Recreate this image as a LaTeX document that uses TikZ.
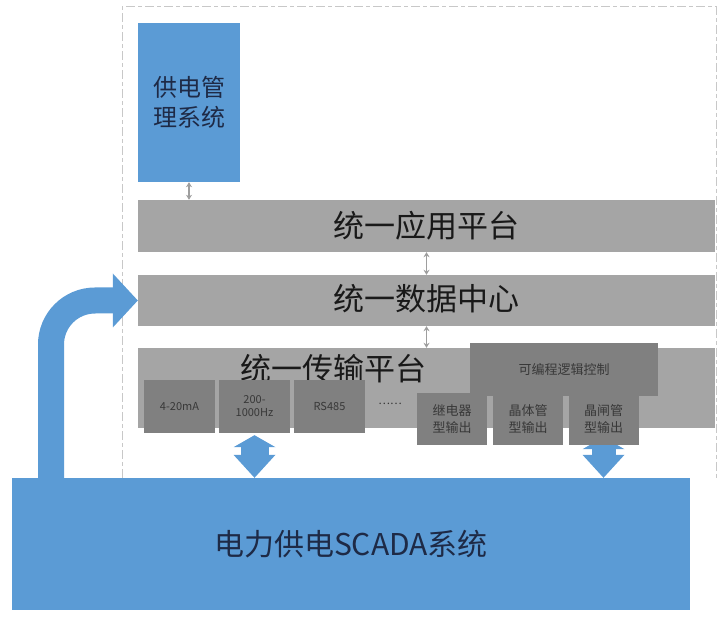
\documentclass[tikz,border=0pt]{standalone}
\usepackage{fontspec}
\setmainfont{Noto Sans CJK SC}
\usetikzlibrary{arrows.meta,backgrounds}

\definecolor{scadablue}{HTML}{5B9BD5}
\definecolor{bargray}{HTML}{A5A5A5}
\definecolor{boxgray}{HTML}{808080}
\definecolor{linkgray}{HTML}{9E9E9E}
\definecolor{framegray}{HTML}{C8C8C8}
\definecolor{navytext}{HTML}{1E2A46}

\tikzset{
  layerbar/.style={rectangle, fill=bargray, inner sep=0pt, minimum width=577pt},
  portbox/.style={rectangle, fill=boxgray, inner sep=0pt, minimum width=71pt, minimum height=53pt,
    align=center, text=black!78, font=\fontsize{11}{13}\selectfont},
  outbox/.style={portbox, minimum width=70pt, minimum height=52pt, font=\fontsize{13}{17}\selectfont},
  bigtext/.style={font=\fontsize{31}{31}\selectfont, text=black!90},
  link/.style={draw=linkgray, line width=1.2pt,
    {Stealth[length=5pt,width=6pt]}-{Stealth[length=5pt,width=6pt]}},
  busarrow/.style={draw=scadablue, line width=28pt,
    {Triangle[width=42pt,length=12pt,line width=0pt]}-{Triangle[width=42pt,length=23pt,line width=0pt]}},
  bendarrow/.style={draw=scadablue, line width=26pt, rounded corners=44pt,
    -{Triangle[width=54pt,length=25pt,line width=0pt]}}
}

\begin{document}
\begin{tikzpicture}[x=1pt,y=-1pt]
	\useasboundingbox (0,0) rectangle (718,617);

	% management block and the three platform layers
	\node (mgmt) [rectangle, fill=scadablue, inner sep=0pt, minimum width=102pt, minimum height=159pt,
		align=center, text=navytext, font=\fontsize{24}{30}\selectfont] at (189,102.5) {供电管\\理系统};
	\node (app) [layerbar, minimum height=52pt] at (426.5,226) {};
	\node (apptext) [bigtext] at (426,226) {统一应用平台};
	\node (data) [layerbar, minimum height=51pt] at (426.5,300.5) {};
	\node (datatext) [bigtext] at (426,299) {统一数据中心};
	\node (trans) [layerbar, minimum height=80pt] at (426.5,388) {};
	\node (transtext) [bigtext] at (333,369) {统一传输平台};

	% PLC and its outputs
	\node (plc) [rectangle, fill=boxgray, inner sep=0pt, minimum width=188pt, minimum height=53pt,
		text=black!78, font=\fontsize{13}{13}\selectfont] at (564,369.5) {可编程逻辑控制};

	% signal interfaces
	\node (ma) [portbox] at (179.5,406.5) {4-20mA};
	\node (hz) [portbox] at (254.5,406.5) {200-\\1000Hz};
	\node (rs) [portbox] at (329.5,406.5) {RS485};
	\node (dots) [text=black!80, font=\fontsize{11}{11}\selectfont] at (390,404) {……};
	\node (relay) [outbox] at (452,419) {继电器\\型输出};
	\node (transistor) [outbox] at (528,419) {晶体管\\型输出};
	\node (thyristor) [outbox] at (603.5,419) {晶闸管\\型输出};

	% SCADA
	\node (scada) [rectangle, fill=scadablue, inner sep=0pt, minimum width=678pt, minimum height=132pt,
		text=navytext, font=\fontsize{30}{30}\selectfont] at (351,544) {电力供电SCADA系统};

	\draw[link] (mgmt.south) -- (mgmt.south |- app.north);
	\draw[link] (app.south) -- (data.north);
	\draw[link] (data.south) -- (trans.north);

	\coordinate (riser) at (51,0);
	\begin{scope}[on background layer]
		\draw[framegray, line width=1pt, dash pattern=on 9pt off 3pt on 4pt off 3pt]
			(122,478) |- (716,7) -- (716,478);
		\draw[bendarrow] (scada.north -| riser) |- (data.west);
		\draw[busarrow] ([yshift=-2pt]hz.south) -- (hz.south |- scada.north);
		\draw[busarrow, line width=24pt] ([yshift=8pt]thyristor.south) -- (thyristor.south |- scada.north);
	\end{scope}
\end{tikzpicture}
\end{document}
